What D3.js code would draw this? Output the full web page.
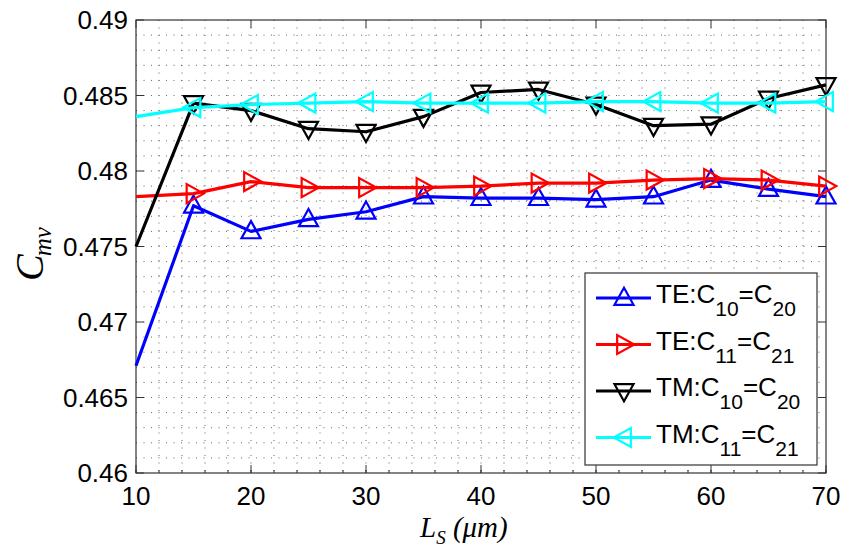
<!DOCTYPE html>
<html>
<head>
<meta charset="utf-8">
<script src="https://cdn.jsdelivr.net/npm/d3@7"></script>
<style>
  body { margin: 0; background: #fff; }
  svg { display: block; }
  .tick-label { font-family: "Liberation Sans", Arial, sans-serif; font-size: 26px; fill: #000; }
  .axis-title { font-family: "Liberation Serif", "Times New Roman", serif; font-style: italic; fill: #000; }
  .legend-text { font-family: "Liberation Sans", Arial, sans-serif; font-size: 26px; fill: #000; }
</style>
</head>
<body>
<svg id="chart" width="845" height="547"></svg>
<script>
var lengths = [10, 15, 20, 25, 30, 35, 40, 45, 50, 55, 60, 65, 70];

var teC10 = [0.4671, 0.4777, 0.4760, 0.4768, 0.4773, 0.4783, 0.4782, 0.4782, 0.4781, 0.4783, 0.4794, 0.4788, 0.4783];
var teC11 = [0.4783, 0.4785, 0.4793, 0.4789, 0.4789, 0.4789, 0.4790, 0.4792, 0.4792, 0.4794, 0.4795, 0.4794, 0.4790];
var tmC10 = [0.4750, 0.4845, 0.4840, 0.4828, 0.4826, 0.4836, 0.4852, 0.4854, 0.4844, 0.4830, 0.4831, 0.4848, 0.4857];
var tmC11 = [0.4836, 0.4842, 0.4844, 0.4845, 0.4846, 0.4845, 0.4845, 0.4845, 0.4846, 0.4846, 0.4845, 0.4845, 0.4846];

var xTicks = [10, 20, 30, 40, 50, 60, 70];
var yTicks = [0.46, 0.465, 0.47, 0.475, 0.48, 0.485, 0.49];

// markers start at the second sample, as in the original figure
var firstMarker = 15;

var series = [
  { name: ['TE:C', '10', '=C', '20'], values: teC10, color: '#0000ff', marker: 'up' },
  { name: ['TE:C', '11', '=C', '21'], values: teC11, color: '#ff0000', marker: 'right' },
  { name: ['TM:C', '10', '=C', '20'], values: tmC10, color: '#000000', marker: 'down' },
  { name: ['TM:C', '11', '=C', '21'], values: tmC11, color: '#00ffff', marker: 'left' }
];

var margin = { left: 136, top: 20, right: 19, bottom: 74 };
var svg = d3.select('#chart');
var width = +svg.attr('width') - margin.left - margin.right;
var height = +svg.attr('height') - margin.top - margin.bottom;

var x = d3.scaleLinear().domain([10, 70]).range([0, width]);
var y = d3.scaleLinear().domain([0.46, 0.49]).range([height, 0]);

var g = svg.append('g').attr('transform', 'translate(' + margin.left + ',' + margin.top + ')');

// dotted grid, major + minor
var xGrid = d3.range(10, 70.001, 2);
var yGrid = d3.range(0, 31).map(function(i) { return 0.46 + i * 0.001; });

g.append('g').selectAll('line')
  .data(xGrid.slice(1, -1))
  .enter().append('line')
  .attr('x1', function(d) { return x(d); })
  .attr('x2', function(d) { return x(d); })
  .attr('y1', 0).attr('y2', height)
  .attr('stroke', '#666').attr('stroke-width', 1)
  .attr('stroke-dasharray', '1,6.5');

g.append('g').selectAll('line')
  .data(yGrid.slice(1, -1))
  .enter().append('line')
  .attr('y1', function(d) { return y(d); })
  .attr('y2', function(d) { return y(d); })
  .attr('x1', 0).attr('x2', width)
  .attr('stroke', '#666').attr('stroke-width', 1)
  .attr('stroke-dasharray', '1,6.5');

// axes box
g.append('rect')
  .attr('width', width).attr('height', height)
  .attr('fill', 'none').attr('stroke', '#333').attr('stroke-width', 1.2);

// ticks, pointing inward
var ticks = g.append('g').attr('stroke', '#333').attr('stroke-width', 1);
ticks.selectAll('line.xb').data(xTicks).enter().append('line')
  .attr('x1', function(d) { return x(d); }).attr('x2', function(d) { return x(d); })
  .attr('y1', height).attr('y2', height - 8);
ticks.selectAll('line.xt').data(xTicks).enter().append('line')
  .attr('x1', function(d) { return x(d); }).attr('x2', function(d) { return x(d); })
  .attr('y1', 0).attr('y2', 8);
ticks.selectAll('line.xm').data(xGrid).enter().append('line')
  .attr('x1', function(d) { return x(d); }).attr('x2', function(d) { return x(d); })
  .attr('y1', height).attr('y2', height - 3);
ticks.selectAll('line.yl').data(yTicks).enter().append('line')
  .attr('y1', function(d) { return y(d); }).attr('y2', function(d) { return y(d); })
  .attr('x1', 0).attr('x2', 8);
ticks.selectAll('line.yr').data(yTicks).enter().append('line')
  .attr('y1', function(d) { return y(d); }).attr('y2', function(d) { return y(d); })
  .attr('x1', width).attr('x2', width - 8);

// tick labels
g.append('g').selectAll('text')
  .data(xTicks)
  .enter().append('text')
  .attr('class', 'tick-label')
  .attr('x', function(d) { return x(d); })
  .attr('y', height + 32)
  .attr('text-anchor', 'middle')
  .text(function(d) { return d; });

g.append('g').selectAll('text')
  .data(yTicks)
  .enter().append('text')
  .attr('class', 'tick-label')
  .attr('x', -8)
  .attr('y', function(d) { return y(d); })
  .attr('dy', '0.36em')
  .attr('text-anchor', 'end')
  .text(function(d) { return +d.toFixed(3); });

// axis titles
var xt = svg.append('text')
  .attr('class', 'axis-title')
  .attr('x', 420).attr('y', 537)
  .style('font-size', '29px');
xt.append('tspan').text('L');
xt.append('tspan').attr('dy', 7).style('font-size', '19px').text('S');
xt.append('tspan').attr('dy', -7).text(' (\u03bcm)');

var yt = svg.append('text')
  .attr('class', 'axis-title')
  .attr('transform', 'translate(43,281) rotate(-90)')
  .style('font-size', '40px');
yt.append('tspan').text('C');
yt.append('tspan').attr('dy', 8).attr('dx', -2).style('font-size', '25px').text('mv');

// markers
function markerPath(type, s) {
  var h = s * 0.9;
  var pts;
  if (type === 'up') pts = [[0, -h * 0.6], [s / 2, h * 0.4], [-s / 2, h * 0.4]];
  else if (type === 'down') pts = [[0, h * 0.6], [s / 2, -h * 0.4], [-s / 2, -h * 0.4]];
  else if (type === 'right') pts = [[h * 0.6, 0], [-h * 0.4, s / 2], [-h * 0.4, -s / 2]];
  else pts = [[-h * 0.6, 0], [h * 0.4, s / 2], [h * 0.4, -s / 2]];
  return 'M' + pts.map(function(p) { return p.join(','); }).join('L') + 'Z';
}

var line = d3.line()
  .x(function(d) { return x(d.x); })
  .y(function(d) { return y(d.y); });

series.forEach(function(s) {
  var pts = lengths.map(function(l, i) { return { x: l, y: s.values[i] }; });
  var sg = g.append('g');
  sg.append('path')
    .datum(pts)
    .attr('d', line)
    .attr('fill', 'none')
    .attr('stroke', s.color)
    .attr('stroke-width', 3.2)
    .attr('stroke-linejoin', 'round');
  sg.selectAll('path.mk')
    .data(pts.filter(function(p) { return p.x >= firstMarker; }))
    .enter().append('path')
    .attr('class', 'mk')
    .attr('transform', function(d) { return 'translate(' + x(d.x) + ',' + y(d.y) + ')'; })
    .attr('d', markerPath(s.marker, 19))
    .attr('fill', 'none')
    .attr('stroke', s.color)
    .attr('stroke-width', 2.2);
});

// legend
var legend = svg.append('g').attr('transform', 'translate(585,273)');
legend.append('rect')
  .attr('width', 232).attr('height', 192)
  .attr('fill', '#fff').attr('stroke', '#333').attr('stroke-width', 1.2);

series.forEach(function(s, i) {
  var ly = 25 + i * 46.5;
  var row = legend.append('g').attr('transform', 'translate(0,' + ly + ')');
  row.append('line')
    .attr('x1', 11).attr('x2', 66)
    .attr('stroke', s.color).attr('stroke-width', 3.2);
  row.append('path')
    .attr('transform', 'translate(39,0)')
    .attr('d', markerPath(s.marker, 19))
    .attr('fill', 'none').attr('stroke', s.color).attr('stroke-width', 2.2);
  var t = row.append('text').attr('class', 'legend-text').attr('x', 71).attr('y', 5);
  t.append('tspan').text(s.name[0]);
  t.append('tspan').attr('dy', 13).style('font-size', '21px').text(s.name[1]);
  t.append('tspan').attr('dy', -13).text(s.name[2]);
  t.append('tspan').attr('dy', 13).style('font-size', '21px').text(s.name[3]);
});
</script>
</body>
</html>
